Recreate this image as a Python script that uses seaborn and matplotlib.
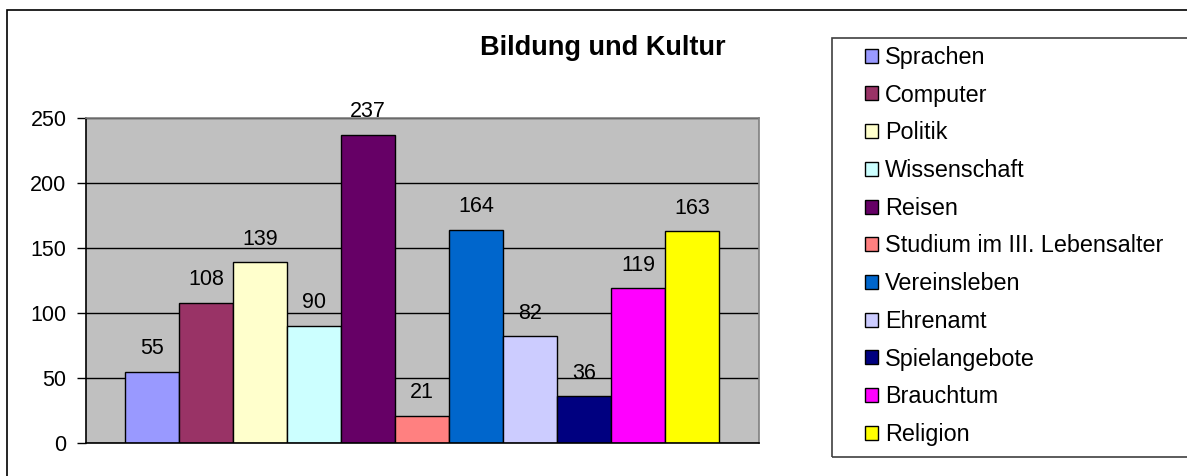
import matplotlib
matplotlib.use("Agg")
import matplotlib.pyplot as plt
from matplotlib.patches import Rectangle
import pandas as pd
import seaborn as sns

categories = [
    "Sprachen", "Computer", "Politik", "Wissenschaft", "Reisen",
    "Studium im III. Lebensalter", "Vereinsleben", "Ehrenamt",
    "Spielangebote", "Brauchtum", "Religion",
]
values = [55, 108, 139, 90, 237, 21, 164, 82, 36, 119, 163]
colors = [
    "#9999FF", "#993366", "#FFFFCC", "#CCFFFF", "#660066", "#FF8080",
    "#0066CC", "#CCCCFF", "#000080", "#FF00FF", "#FFFF00",
]
y_ticks = [0, 50, 100, 150, 200, 250]
title = "Bildung und Kultur"

df = pd.DataFrame({"Bereich": categories, "Anzahl": values})

plt.rcParams["font.family"] = ["Liberation Sans", "DejaVu Sans"]

W, H = 1187, 476
fig = plt.figure(figsize=(W / 100, H / 100), dpi=100)
fig.patch.set_facecolor("white")

# outer chart frame (left/top edges visible only)
fig.patches.append(Rectangle((7 / W, -0.2), 2, 1.2 - 10 / H, transform=fig.transFigure,
                             fill=False, edgecolor="black", lw=1.2))
# legend frame
fig.patches.append(Rectangle((832 / W, 1 - 457 / H), 0.5, (457 - 38) / H, transform=fig.transFigure,
                             fill=False, edgecolor="#404040", lw=1.2))

ax = fig.add_axes([86 / W, 1 - 443 / H, (759 - 86) / W, (443 - 118) / H])
ax.set_facecolor("#C0C0C0")

sns.barplot(data=df, x="Bereich", y="Anzahl", hue="Bereich", palette=colors,
            width=1.0, edgecolor="black", linewidth=1, saturation=1, legend=False, ax=ax)

for cont in ax.containers:
    ax.bar_label(cont, padding=9, fontsize=15.5, clip_on=False)

ax.set_xlim(-1.222, 11.24)
ax.set_ylim(0, 250)
ax.set_yticks(y_ticks)
ax.set_xticks([])
ax.set_xlabel("")
ax.set_ylabel("")
ax.set_axisbelow(True)
ax.yaxis.grid(True, color="black", lw=1)
ax.tick_params(axis="y", length=6.5, width=1, color="black", pad=7.5, labelsize=15.5, direction="out")
for s in ["top", "right"]:
    ax.spines[s].set_color("#808080")
    ax.spines[s].set_linewidth(1.2)
for s in ["left", "bottom"]:
    ax.spines[s].set_color("black")
    ax.spines[s].set_linewidth(1.2)

fig.text(603 / W, 1 - 48 / H, title, ha="center", va="center", fontsize=19.5, fontweight="bold")

handles = [Rectangle((0, 0), 1, 1, facecolor=c, edgecolor="black", lw=1) for c in colors]
fig.legend(handles, categories, loc="upper left", bbox_to_anchor=(865 / W, 1 - 46 / H),
           frameon=False, fontsize=16.8, handlelength=0.55, handleheight=0.55,
           handletextpad=0.3, labelspacing=0.63, borderpad=0, borderaxespad=0)

fig.savefig("out.png", dpi=100)
